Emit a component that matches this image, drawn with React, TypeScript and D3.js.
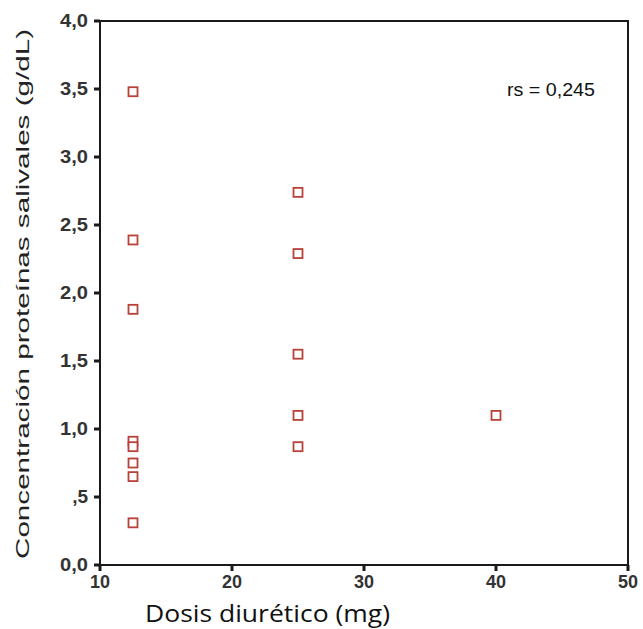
import React from "react";
import * as d3 from "d3";

const xValues = [12.5, 12.5, 12.5, 12.5, 12.5, 12.5, 12.5, 12.5, 25, 25, 25, 25, 25, 40];
const yValues = [3.48, 2.39, 1.88, 0.91, 0.87, 0.75, 0.65, 0.31, 2.74, 2.29, 1.55, 1.1, 0.87, 1.1];
const xTicks = [10, 20, 30, 40, 50];
const yTicks = [0, 0.5, 1, 1.5, 2, 2.5, 3, 3.5, 4];
const yTickLabels = ["0,0", ",5", "1,0", "1,5", "2,0", "2,5", "3,0", "3,5", "4,0"];
const annotation = "rs = 0,245";
const xTitle = "Dosis diurético (mg)";
const yTitle = "Concentración proteínas salivales (g/dL)";

const W = 643, H = 629;
const left = 100, right = 628, top = 21, bottom = 565;

export default function App() {
  const x = d3.scaleLinear().domain([10, 50]).range([left, right]);
  const y = d3.scaleLinear().domain([0, 4]).range([bottom, top]);
  const ink = "#1a1a1a";
  return (
    <svg width={W} height={H} style={{ position: "absolute", left: 0, top: 0, background: "#fff" }}>
      <rect x={0} y={0} width={W} height={H} fill="#fff" />
      <rect x={left} y={top} width={right - left} height={bottom - top} fill="none" stroke={ink} strokeWidth={2} />
      {yTicks.map((t, i) => (
        <g key={"y" + i}>
          <line x1={left - 6} x2={left} y1={y(t)} y2={y(t)} stroke={ink} strokeWidth={3} />
          <text x={left - 12} y={y(t) + 6} textAnchor="end" fontFamily="Liberation Sans, Arial, sans-serif" fontSize={19} fontWeight="bold" fill="#333" textLength={yTickLabels[i].length > 2 ? 28 : undefined} lengthAdjust="spacingAndGlyphs">
            {yTickLabels[i]}
          </text>
        </g>
      ))}
      {xTicks.map((t, i) => (
        <g key={"x" + i}>
          <line x1={x(t)} x2={x(t)} y1={bottom} y2={bottom + 6} stroke={ink} strokeWidth={3} />
          <text x={x(t)} y={bottom + 23} textAnchor="middle" fontFamily="Liberation Sans, Arial, sans-serif" fontSize={18} fontWeight="bold" fill="#333">
            {t}
          </text>
        </g>
      ))}
      {xValues.map((v, i) => (
        <rect key={"p" + i} x={x(v) - 4.5} y={y(yValues[i]) - 4.5} width={9} height={9} fill="#fff" stroke="#b8413a" strokeWidth={1.8} />
      ))}
      <text x={507} y={96} fontFamily="Liberation Sans, Arial, sans-serif" fontSize={18} fill="#111" textLength={88} lengthAdjust="spacingAndGlyphs">
        {annotation}
      </text>
      <text x={145} y={622} fontFamily="Open Sans, sans-serif" fontSize={23} fill="#111" textLength={245} lengthAdjust="spacingAndGlyphs">
        {xTitle}
      </text>
      <text transform={`translate(29, ${(28 + 560) / 2}) rotate(-90)`} textAnchor="middle" fontFamily="Liberation Sans, Arial, sans-serif" fontSize={19} fill="#222" textLength={530} lengthAdjust="spacingAndGlyphs">
        {yTitle}
      </text>
    </svg>
  );
}
